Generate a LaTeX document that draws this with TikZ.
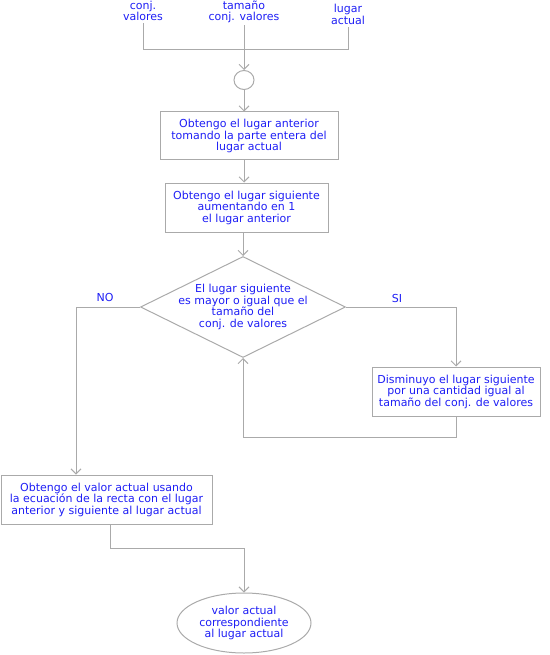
\documentclass[tikz,border=0pt]{standalone}
\usepackage{fontspec}
\setmainfont{DejaVu Sans}
\usepackage{xcolor}
\usetikzlibrary{shapes.geometric,arrows.meta}
\definecolor{txtblue}{RGB}{30,30,245}
\definecolor{linegray}{RGB}{170,170,170}

\begin{document}
\begin{tikzpicture}[x=1pt,y=-1pt,
    txt/.style={text=txtblue,align=center,inner sep=2pt,font=\fontsize{11}{11.5}\selectfont},
    box/.style={txt,draw=linegray,line width=1pt,rectangle},
    line/.style={draw=linegray,line width=1pt},
    arr/.style={line,-{Straight Barb[length=5pt,width=10pt]}}]
    \useasboundingbox (0,0) rectangle (549,655);

    \node[txt] (CV) at (143,11) {conj.\\valores};
    \node[txt] (TV) at (244,12) {tamaño\\conj. valores};
    \node[txt] (LA) at (348,14.5) {lugar\\actual};
    \coordinate (J) at (244,50);
    \node[line,ellipse,minimum width=20,minimum height=19,inner sep=0pt] (O) at (244,80) {};
    \draw[line] (CV) -- (CV |- J) -| (LA);
    \draw[arr] (TV) -- (O);

    \node[box,minimum width=178,minimum height=48] (A) at (249,136)
        {Obtengo el lugar anterior\\tomando la parte entera del\\lugar actual};
    \node[box,minimum width=163,minimum height=49] (B) at (246.5,207.5)
        {Obtengo el lugar siguiente\\aumentando en 1\\el lugar anterior};
    \node[line,diamond,minimum width=205,minimum height=101,inner sep=0pt] (D) at (243,307) {};
    \node[txt] at (D) {El lugar siguiente\\es mayor o igual que el\\tamaño del\\conj. de valores};
    \node[box,minimum width=168,minimum height=49] (C) at (456,391.5)
        {Disminuyo el lugar siguiente\\por una cantidad igual al\\tamaño del conj. de valores};
    \node[box,minimum width=211,minimum height=49] (E) at (106.5,499.5)
        {Obtengo el valor actual usando\\la ecuación de la recta con el lugar\\anterior y siguiente al lugar actual};
    \node[line,ellipse,minimum width=134,minimum height=60,inner sep=0pt] (F) at (244,623) {};
    \node[txt] at (F) {valor actual\\correspondiente\\al lugar actual};
    \node[txt] (NO) at (105,297) {NO};
    \node[txt] (SI) at (397,298) {SI};
    \coordinate (N) at (76,307);

    \draw[arr] (O) -- (O |- A.north);
    \draw[arr] (A.south -| O) -- (B.north -| O);
    \draw[arr] (B.south -| D) -- (D.north);
    \draw[arr] (D.east) -| (C.north);
    \draw[arr] (C.south) -- ++(0,21) -| (D.south);
    \draw[arr] (D.west) -- (N) -- (N |- E.north);
    \draw[arr] (E.south -| 110,0) -- ++(0,24) -| (F.north);
\end{tikzpicture}
\end{document}
